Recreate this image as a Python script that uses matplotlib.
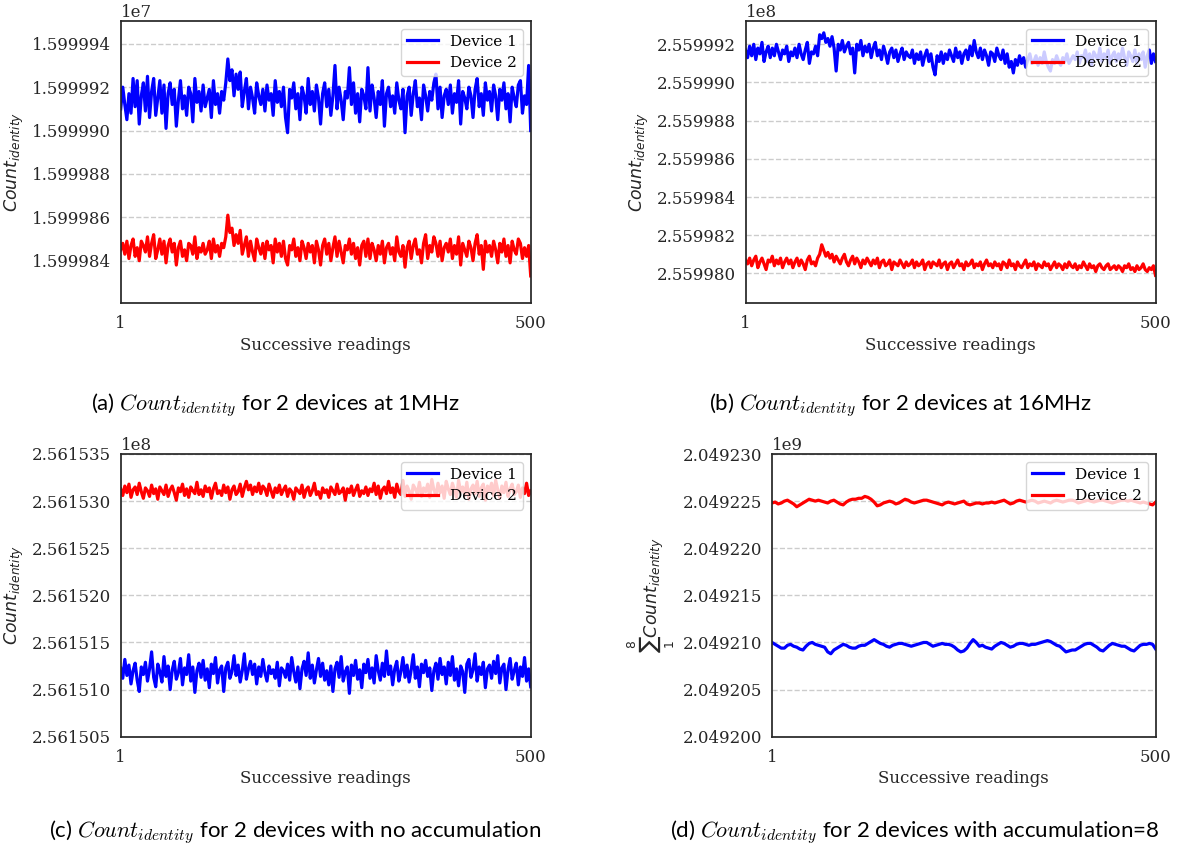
import numpy as np
import matplotlib as mpl
mpl.use('Agg')
import matplotlib.pyplot as plt
import matplotlib.ticker as mticker

# ---- data (offsets, in "unit" counts around a base) ----
readings_first, readings_last = 1, 500

# (a) 1MHz, unit = 1 count
a_base_dev1, a_base_dev2, a_unit = 15999914, 15999845, 1
a_dev1 = [-4, 6, -2, -9, 3, -6, 10, -3, 9, -11, 2, 8, -5, 11, -8, 4, 10, -7, 1, 9,
          -6, 7, -13, 3, 8, -2, 5, -12, 0, 9, -4, 2, -7, 6, 3, -10, 10, -1, 4, -5,
          7, -3, 1, 5, -8, 9, -2, 3, -6, 4, 0, 8, 19, 9, 14, 2, 12, 5, 13, -3,
          4, 10, -4, 6, 1, -6, 8, 2, -2, 5, -5, 7, 0, 3, -7, 9, -1, 4, -3, 6,
          -8, -15, 5, 1, 8, -4, 3, -9, 6, 2, -6, 10, -2, 4, -5, 7, 1, -11, 3, 8,
          -3, 5, -7, 2, 16, -4, 6, 0, -9, 4, 1, 15, -2, 8, -6, 3, -10, 5, 2, -4,
          15, -5, 7, 1, -8, 4, -2, 9, -12, 3, 6, -3, 2, -6, 8, 0, -4, 5, -15, 2,
          6, -7, 3, 9, -3, 1, -9, 7, 2, -5, 4, 0, 8, 12, -4, 6, -8, 2, 5, -2,
          7, -6, 3, -1, 9, -11, 4, 1, -4, 6, 2, -8, 5, 10, -3, 3, -7, 8, 0, 4,
          -5, 7, 2, -9, 5, 0, 8, -4, 3, -10, 6, 1, -3, 7, 9, -6, 2, -2, 16, -14]
a_dev2 = [0, 3, -2, 4, -4, 2, 5, -3, 1, -5, 4, 2, -1, 6, -3, 3, 7, -4, 0, 5,
          -2, 4, -6, 2, 5, -1, 3, -7, 1, 4, -3, 0, -5, 3, 2, -2, 6, -4, 1, -1,
          3, -2, 0, 4, -4, 5, -1, 2, -3, 3, 1, 6, 16, 8, 10, 2, 7, 3, 9, -2,
          2, 6, -3, 4, -1, -5, 5, 1, -2, 3, -4, 4, 0, 2, -6, 5, -1, 3, -3, 4,
          -4, -7, 2, 0, 5, -3, 1, -5, 4, 1, -4, 3, -1, 2, -6, 4, 0, -7, 2, 5,
          -2, 3, -5, 1, 6, -3, 4, -1, -6, 2, 0, 5, -2, 3, -4, 1, -7, 2, 4, -3,
          5, -4, 3, 0, -5, 2, -2, 4, -6, 1, 3, -2, 1, -5, 6, -1, -3, 2, -8, 1,
          4, -4, 2, 5, -2, 0, -6, 3, 7, -4, 2, -1, 6, 3, -3, 4, -5, 1, 3, -1,
          5, -4, 2, -2, 6, -7, 3, 0, -3, 4, 1, -5, 3, 7, -2, 2, -9, 4, -1, 2,
          -3, 4, 0, -6, 3, -1, 5, -3, 2, -6, 4, 0, -2, 5, 3, -4, 1, -3, 2, -12]

# (b) 16MHz, unit = 10 counts
b_base_dev1, b_base_dev2, b_unit = 255999140, 255998050, 10
b_dev1 = [3, -1, 5, 0, 6, -2, 4, 1, 7, -3, 2, 5, -1, 4, 0, 6, 2, -2, 3, 1,
          5, -3, 2, 0, 4, -1, 6, 1, -2, 3, 7, -4, 2, 1, 5, 0, 11, 9, 12, 7,
          9, 5, 10, 4, -8, 6, 3, 8, 2, 5, 7, 1, 4, -9, 6, 3, 8, 0, 5, 2,
          6, -1, 4, 7, 0, 3, -2, 5, 1, -4, 2, 4, -1, 3, -3, 1, 4, -2, 2, 0,
          -1, 3, -4, 1, -2, 2, -5, 0, 3, -3, 1, -6, -10, 0, -3, 2, -4, 1, -2, 3,
          0, -3, 4, -1, 2, -4, 1, 3, -2, 5, 0, 8, 2, -1, 4, -2, 3, 0, -5, 2,
          1, -3, 4, 0, -2, 3, -4, 1, -6, -3, -9, -2, -5, 0, -4, -1, -6, -2, 1, -4,
          -3, 0, -5, -1, -4, 2, -3, -6, -8, -2, -4, 0, -3, -5, -1, -3, 1, -4, -2, 0,
          -2, 2, -4, 0, -1, 3, -3, 1, -5, 2, 0, -2, 4, -3, 1, -1, 3, -4, 0, 2,
          -3, 1, -2, 4, -1, -5, 2, 0, -3, 3, -4, 1, -2, 2, -6, 0, 3, -4, 1, -3]
b_dev2 = [2, 0, 3, -1, 2, 4, -2, 1, 3, 0, -3, 2, 1, 4, -1, 2, 0, 3, -2, 1,
          3, 0, 2, -2, 1, 3, -1, 2, 0, -3, 2, 4, 0, 1, -1, 3, 5, 10, 7, 4,
          6, 3, 5, 1, 4, 2, 0, 3, 5, 1, -1, 2, 4, 0, 3, 1, -2, 2, 0, 3,
          1, -1, 2, 0, 3, -2, 1, 2, -1, 0, 2, -3, 1, 0, -1, 2, 0, -2, 1, -1,
          0, 2, -2, 1, -1, 0, 2, -3, 0, 1, -2, 1, 0, -1, 2, -2, 0, 1, -3, 0,
          1, -2, 0, 2, -1, 0, -3, 1, -1, 0, 2, -2, 0, -1, 1, -3, 0, 2, -1, 0,
          -2, 1, -1, 0, -3, 1, 0, -2, 2, -1, 0, -3, 1, -1, -2, 0, 2, -2, 0, -1,
          1, -3, 0, -1, -2, 1, -1, 0, -3, -1, 1, -2, 0, -1, -3, 0, -2, 1, -1, -2,
          0, -3, -1, -2, 1, -1, -3, 0, -2, -1, -4, -1, 0, -2, -3, -1, 0, -3, -2, -1,
          -3, -1, -2, -4, -1, -2, 0, -3, -2, -4, -1, -3, -2, 0, -3, -4, -2, -3, -1, -6]

# (c) no accumulation, unit = 10 counts
c_base_dev1, c_base_dev2, c_unit = 256151180, 256153100, 10
c_dev1 = [5, -6, 14, -3, 8, -12, 2, 10, -8, -20, 6, -2, 11, -9, 4, 22, -5, -15, 9, 1,
          -10, 17, -4, 7, -18, 3, 12, -7, 0, 15, -13, 5, -2, 19, -9, 6, -21, 2, 10, -5,
          13, -8, 4, -16, 9, -1, 16, -11, 3, 7, -20, 5, 11, -6, 1, 18, -3, 8, -10, 2,
          20, -7, 4, 12, -2, 9, -12, 6, -4, 14, 0, -9, 7, -1, 3, -6, 11, -14, 5, 2,
          -5, 9, -8, 16, 1, -10, 6, -17, 4, 12, -3, 21, -6, 8, -11, 3, 15, -4, 10, -8,
          2, -13, 7, -20, 4, 11, -5, 17, -9, 1, 6, -22, 8, -3, 13, -7, 3, -16, 9, 0,
          14, -6, 5, -11, 18, 2, -8, 10, -4, 23, -2, 7, -13, 4, 12, -9, 1, 16, -5, 8,
          -10, 3, 19, -6, 6, -15, 9, 0, 13, -4, 5, -19, 2, 10, -7, 15, -2, 6, -12, 11,
          -3, 17, -8, 4, -14, 7, 1, -21, 9, 14, -5, 3, 20, -9, 6, -2, 11, -16, 4, 8,
          -6, 12, -1, 18, -11, 5, 9, -18, 3, 15, -7, 2, 10, -13, 6, -4, 16, -9, 4, -15]
c_dev2 = [3, -4, 6, -1, 8, -6, 2, 5, -3, 9, 0, -7, 4, 1, -5, 7, -2, 3, -8, 5,
          1, -3, 7, -5, 2, 6, -1, -9, 4, 0, 8, -4, 3, -6, 5, 1, -2, 10, -3, 2,
          -5, 6, 0, 4, -7, 3, 9, -2, 1, -4, 7, -1, 5, -8, 2, 6, -3, 0, 8, -5,
          4, 11, 2, 7, -3, 5, 0, 9, -2, 6, 3, -4, 8, 1, -6, 4, -1, 7, -3, 2,
          6, -5, 3, 0, -8, 4, 1, -2, 7, -6, 2, 5, -4, 1, 9, -3, 0, -7, 4, -1,
          2, -6, 5, 1, -3, 8, -2, 0, 4, -9, 3, -1, 6, -4, 2, 7, -5, 1, -2, 5,
          -4, 3, 0, 9, -3, 6, -7, 2, 5, -2, 11, -1, 4, -6, 8, 0, -3, 12, -5, 6,
          1, -8, 7, 3, -2, 10, -5, 4, 0, 8, -6, 13, 2, -4, 9, -1, 6, -7, 11, 3,
          -3, 9, 2, -6, 12, 0, 5, -4, 10, -8, 3, 7, -2, 11, -5, 4, 8, -9, 6, 1,
          9, -4, 12, 2, -7, 6, -1, 10, -5, 3, 8, -3, 0, 7, -6, 4, -2, 9, -4, 1]

# (d) accumulation = 8, unit = 100 counts
d_base_dev1, d_base_dev2, d_unit = 2049210000, 2049225000, 100
d_dev1 = [0, -2, -4, -6, -6, -3, -2, -4, -5, -7, -8, -4, -1, 0, -2, -3, -4, -5, -10, -12,
          -8, -6, -4, -2, -3, -5, -6, -6, -4, -3, -3, -1, 1, 3, 1, -1, -2, -4, -5, -3,
          -2, -1, -1, -2, -3, -4, -3, -2, -1, 0, 0, -2, -4, -3, -2, -1, -2, -2, -3, -5,
          -8, -10, -9, -6, -1, 3, 0, -4, -3, -5, -6, -7, -4, -2, 0, -1, -3, -5, -4, -2,
          -1, -1, -2, -3, -2, -2, -1, 0, 1, 2, 1, -1, -3, -4, -7, -10, -9, -8, -8, -6,
          -4, -2, -1, -1, -3, -5, -8, -9, -6, -3, -1, -2, -3, -4, -4, -6, -8, -9, -6, -3,
          -2, -2, -1, -2, -7]
d_dev2 = [-2, -1, -3, -2, 0, 1, -1, -3, -6, -4, -2, 0, 2, 1, 0, 1, 0, -1, -2, 0,
          1, -1, -3, -4, -1, 1, 2, 2, 3, 3, 5, 4, 2, -1, -5, -4, -2, -1, 0, -1,
          -3, -2, 0, 2, 1, -1, -2, -1, 0, 1, 1, 0, -1, -2, -3, -4, -2, -1, -2, -3,
          -2, -1, 0, -3, -4, -3, -2, -2, -3, -2, -2, -1, -2, -1, 0, 1, -1, -3, -2, 0,
          1, 0, -1, 0, 1, 0, -2, -1, 0, -1, -2, 0, 1, 0, -1, 0, 1, 1, 0, -2,
          -1, 0, 1, 0, -1, 0, 1, 1, 0, -1, -2, -1, 0, 1, 1, 0, 1, 0, -1, -2,
          -1, -2, -3, -4, -1]

panels = [
    (a_dev1, a_dev2, a_base_dev1, a_base_dev2, a_unit, (15999820.5, 15999950.5),
     r"$Count_{identity}$", r"(a) $Count_{identity}$ for 2 devices at 1MHz"),
    (b_dev1, b_dev2, b_base_dev1, b_base_dev2, b_unit, (255997845, 255999322),
     r"$Count_{identity}$", r"(b) $Count_{identity}$ for 2 devices at 16MHz"),
    (c_dev1, c_dev2, c_base_dev1, c_base_dev2, c_unit, (256150500, 256153500),
     r"$Count_{identity}$", r"(c) $Count_{identity}$ for 2 devices with no accumulation"),
    (d_dev1, d_dev2, d_base_dev1, d_base_dev2, d_unit, (2049200000, 2049230000),
     r"$\sum_{1}^{8}Count_{identity}$", r"(d) $Count_{identity}$ for 2 devices with accumulation=8"),
]

# axes rectangles [left, bottom, width, height] in figure fraction
W, H = 1179, 855
rects = [
    [120.7 / W, 1 - 303 / H, 410 / W, 282 / H],
    [745.5 / W, 1 - 303 / H, 410 / W, 282 / H],
    [120.7 / W, 1 - 736.7 / H, 410 / W, 282.7 / H],
    [772 / W, 1 - 736.7 / H, 383.7 / W, 282.7 / H],
]
caption_pos = [(275, 405), (901, 405), (295, 832), (915, 832)]

plt.rcParams['font.family'] = 'DejaVu Serif'
plt.rcParams['axes.edgecolor'] = '#262626'
plt.rcParams['axes.linewidth'] = 1.25

fig = plt.figure(figsize=(W / 100, H / 100), dpi=100)

for (dev1, dev2, base1, base2, unit, ylim, ylab, cap), rect, cpos in zip(panels, rects, caption_pos):
    ax = fig.add_axes(rect)
    y1 = base1 + unit * np.array(dev1, dtype=float)
    y2 = base2 + unit * np.array(dev2, dtype=float)
    x1 = np.linspace(readings_first, readings_last, len(y1))
    x2 = np.linspace(readings_first, readings_last, len(y2))
    ax.plot(x1, y1, color='blue', lw=2.3, label='Device 1')
    ax.plot(x2, y2, color='red', lw=2.3, label='Device 2')
    ax.set_xlim(readings_first, readings_last)
    ax.set_ylim(*ylim)
    ax.set_xticks([readings_first, readings_last])
    ax.yaxis.set_major_formatter(mticker.ScalarFormatter(useOffset=False))
    ax.yaxis.grid(True, linestyle='--', color='#cccccc', lw=1)
    ax.tick_params(axis='both', length=0, labelsize=12, colors='#262626')
    ax.tick_params(axis='y', pad=7)
    ax.tick_params(axis='x', pad=9)
    ax.yaxis.get_offset_text().set_fontsize(12)
    ax.set_xlabel('Successive readings', fontsize=12, color='#262626', labelpad=3)
    ax.set_ylabel(ylab, fontsize=12.5, color='#262626')
    ax.legend(loc='upper right', fontsize=11, framealpha=0.8, edgecolor='#cccccc')
    fig.text(cpos[0] / W, 1 - cpos[1] / H, cap, ha='center', va='center',
             fontsize=16, family='Lato', math_fontfamily='cm')

fig.savefig('out.png', dpi=100)
